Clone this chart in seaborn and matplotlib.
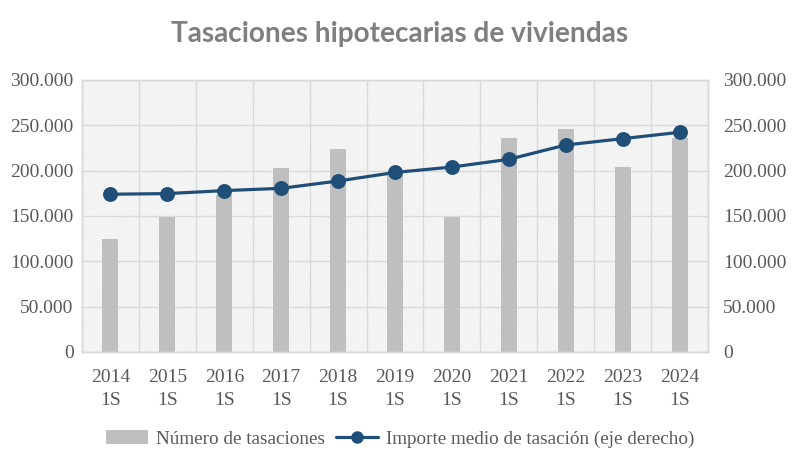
import seaborn as sns
import pandas as pd
import numpy as np
import matplotlib.pyplot as plt
from matplotlib.patches import Rectangle, Patch
from matplotlib.lines import Line2D
from matplotlib.ticker import FuncFormatter, FixedLocator

years = ['2014', '2015', '2016', '2017', '2018', '2019', '2020', '2021', '2022', '2023', '2024']
periods = [y + '\n1S' for y in years]
num_tasaciones = [125000, 148500, 173000, 202500, 223500, 197000, 148500, 236000, 246000, 204000, 235500]
importe_medio = [174000, 174700, 178000, 180500, 188600, 198000, 204000, 212500, 228300, 235300, 242300]

df = pd.DataFrame({'periodo': periods, 'num': num_tasaciones, 'importe': importe_medio})

sns.set_theme(style='white')
plt.rcParams['font.family'] = ['Liberation Serif', 'DejaVu Serif']
plt.rcParams['hatch.linewidth'] = 0.5

grey_txt = '#595959'
grid_c = '#d9d9d9'
bar_c = '#bfbfbf'
line_c = '#1f4e79'

fig = plt.figure(figsize=(8, 4.55), dpi=100)
ax = fig.add_axes([0.1025, 0.2264, 0.7825, 0.5978])

# hatched plot area background
ax.add_patch(Rectangle((0, 0), 1, 1, transform=ax.transAxes, facecolor='white',
                       edgecolor='#e2e2e2', hatch='\\' * 13, linewidth=0, zorder=0))

sns.barplot(data=df, x='periodo', y='num', color=bar_c, width=0.28,
            saturation=1, linewidth=0, ax=ax, zorder=2)

ax2 = ax.twinx()
sns.pointplot(data=df, x='periodo', y='importe', color=line_c, markers='o',
              markersize=9, linewidth=2.3, ax=ax2)

fmt = FuncFormatter(lambda v, p: f'{int(v):,}'.replace(',', '.'))
for a in (ax, ax2):
    a.set_ylim(0, 300000)
    a.set_xlim(-0.5, len(periods) - 0.5)
    a.set_yticks(np.arange(0, 300001, 50000))
    a.yaxis.set_major_formatter(fmt)
    a.set_xlabel('')
    a.set_ylabel('')
    for s in a.spines.values():
        s.set_color(grid_c)
        s.set_linewidth(1)

ax.tick_params(axis='y', labelsize=14, colors=grey_txt, length=0, pad=6)
ax2.tick_params(axis='y', labelsize=14, colors=grey_txt, length=0, pad=11)
ax.tick_params(axis='x', which='major', labelsize=14, colors=grey_txt, length=0, pad=12)
ax.xaxis.set_minor_locator(FixedLocator(np.arange(-0.5, len(periods), 1)))
ax.tick_params(axis='x', which='minor', length=7, color=grid_c, width=1)
for lab in ax.get_xticklabels():
    lab.set_linespacing(1.45)

ax.grid(True, axis='y', color=grid_c, linewidth=1, zorder=1)
ax.grid(True, axis='x', which='minor', color=grid_c, linewidth=1, zorder=1)
ax.grid(False, axis='x', which='major')
ax.set_axisbelow(True)
ax2.grid(False)

fig.text(0.5, 0.925, 'Tasaciones hipotecarias de viviendas', ha='center', va='center',
         fontsize=20.2, fontweight='bold', color='#7f7f7f', family=['Lato', 'DejaVu Sans'])

handles = [Patch(facecolor=bar_c, edgecolor='none'),
           Line2D([], [], color=line_c, linewidth=2.3, marker='o', markersize=8)]
fig.legend(handles, ['Número de tasaciones', 'Importe medio de tasación (eje derecho)'],
           loc='center', bbox_to_anchor=(0.5, 0.035), ncol=2, frameon=False,
           fontsize=13.8, labelcolor=grey_txt, handlelength=2.2, handleheight=0.7,
           columnspacing=0.6, handletextpad=0.4)

fig.savefig('out.png', dpi=100)
